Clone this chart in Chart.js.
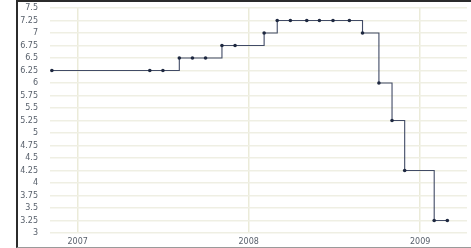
<!DOCTYPE html>
<html lang="en">
<head>
    <meta charset="UTF-8">
    <script src="https://cdn.jsdelivr.net/npm/chart.js"></script>
    <title>Taxa</title>
    <style>
        body { margin: 0; background: #fff; }
        #grafico { position: absolute; left: 0; top: 0; }
        .moldura {
            position: absolute; left: 16px; top: 0; width: 455px; height: 248px;
            box-sizing: border-box;
            border-left: 2px solid #2b2b2b;
            border-top: 2px solid #2b2b2b;
            border-bottom: 1px solid #9a9a9a;
            pointer-events: none;
        }
    </style>
</head>
<body>
    <canvas id="grafico" width="471" height="248"></canvas>
    <div class="moldura"></div>
<script>
    // datas das decisões e taxa (%)
    const datas = ['2006-11-07', '2007-06-04', '2007-07-02', '2007-08-06', '2007-09-03', '2007-10-01',
        '2007-11-05', '2007-12-03', '2008-02-03', '2008-03-02', '2008-03-30', '2008-05-04',
        '2008-05-31', '2008-06-29', '2008-08-03', '2008-08-31', '2008-10-05', '2008-11-02',
        '2008-11-29', '2009-01-31', '2009-02-28'];
    const taxas = [6.25, 6.25, 6.25, 6.5, 6.5, 6.5, 6.75, 6.75, 7, 7.25, 7.25, 7.25,
        7.25, 7.25, 7.25, 7, 6, 5.25, 4.25, 3.25, 3.25];
    const anos = ['2007-01-01', '2008-01-01', '2009-01-01'];

    const pontos = datas.map((d, i) => ({ x: Date.parse(d), y: taxas[i] }));

    const ctx = document.getElementById('grafico');

    const grafico = new Chart(ctx, {
        type: 'line',
        data: {
            datasets: [{
                data: pontos,
                stepped: 'before',
                borderColor: '#414b66',
                borderWidth: 1.1,
                pointRadius: 1.8,
                pointBorderWidth: 0,
                pointBackgroundColor: '#1e2840',
                fill: false
            }]
        },
        options: {
            responsive: false,
            animation: false,
            layout: { padding: { top: 8, right: 0, left: 0, bottom: 0 } },
            plugins: { legend: { display: false }, tooltip: { enabled: false } },
            scales: {
                x: {
                    type: 'linear',
                    min: Date.parse('2006-11-03'),
                    max: Date.parse('2009-04-11'),
                    afterBuildTicks: s => { s.ticks = anos.map(a => ({ value: Date.parse(a) })); },
                    afterFit: s => { s.height = 15; s.paddingLeft = 0; s.paddingRight = 0; },
                    grid: { color: '#ebebd9', lineWidth: 1.5, drawTicks: false },
                    border: { display: false },
                    ticks: {
                        padding: 4,
                        maxRotation: 0,
                        autoSkip: false,
                        color: '#59616c',
                        font: { family: 'DejaVu Sans', size: 8 },
                        callback: v => new Date(v).getUTCFullYear()
                    }
                },
                y: {
                    min: 3,
                    max: 7.5,
                    afterFit: s => { s.width = 50; s.paddingTop = 0; s.paddingBottom = 0; },
                    grid: { color: '#efefe3', lineWidth: 1.5, drawTicks: false },
                    border: { display: false },
                    ticks: {
                        stepSize: 0.25,
                        padding: 12,
                        autoSkip: false,
                        color: '#59616c',
                        font: { family: 'DejaVu Sans', size: 8 },
                        callback: v => String(+v.toFixed(2))
                    }
                }
            }
        }
    });
</script>
</body>
</html>
